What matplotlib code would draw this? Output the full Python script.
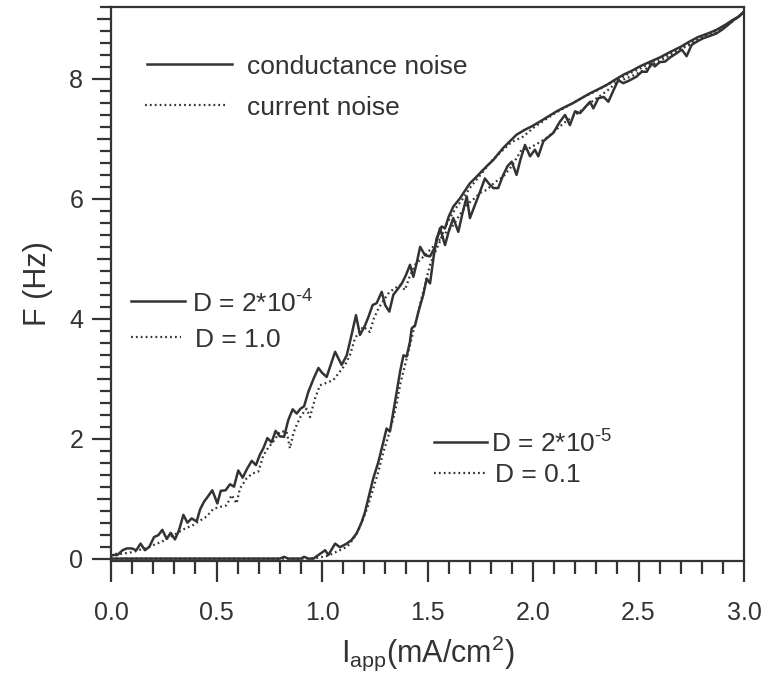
import matplotlib
matplotlib.use("Agg")
import matplotlib.pyplot as plt
from matplotlib.ticker import MultipleLocator

plt.rcParams['font.family'] = ['Liberation Sans', 'DejaVu Sans']
plt.rcParams['mathtext.fontset'] = 'custom'
plt.rcParams['mathtext.rm'] = 'Liberation Sans'
plt.rcParams['mathtext.it'] = 'Liberation Sans'

INK = '#333333'

# conductance noise, D = 2*10^-4 (solid)
x_g_hi = [0.0, 0.011, 0.03, 0.055, 0.075, 0.098, 0.12, 0.14, 0.161, 0.182, 0.204, 0.224,
          0.243, 0.264, 0.283, 0.303, 0.322, 0.343, 0.362, 0.382, 0.406, 0.422, 0.441, 0.46,
          0.48, 0.504, 0.52, 0.543, 0.564, 0.583, 0.603, 0.624, 0.645, 0.667, 0.687, 0.705,
          0.722, 0.741, 0.761, 0.78, 0.80, 0.82, 0.84, 0.861, 0.88, 0.898, 0.915, 0.935,
          0.96, 0.983, 1.0, 1.022, 1.04, 1.062, 1.093, 1.117, 1.14, 1.161, 1.18, 1.204,
          1.222, 1.24, 1.259, 1.283, 1.299, 1.319, 1.338, 1.362, 1.38, 1.398, 1.417, 1.433,
          1.45, 1.465, 1.488, 1.512, 1.536, 1.559, 1.583, 1.6, 1.622, 1.646, 1.665, 1.686,
          1.701, 1.725, 1.749, 1.772, 1.792, 1.812, 1.835, 1.859, 1.88, 1.899, 1.922, 1.94,
          1.962, 1.986, 2.009, 2.025, 2.049, 2.065, 2.096, 2.128, 2.152, 2.175, 2.199, 2.223,
          2.245, 2.27, 2.286, 2.31, 2.335, 2.357, 2.38, 2.404, 2.428, 2.46, 2.491, 2.515,
          2.539, 2.562, 2.578, 2.6, 2.626, 2.65, 2.681, 2.705, 2.728, 2.752, 2.78, 2.807,
          2.84, 2.87, 2.895, 2.917, 2.95, 2.975, 3.0]
f_g_hi = [0.05, 0.06, 0.06, 0.14, 0.17, 0.17, 0.14, 0.25, 0.14, 0.20, 0.36, 0.39,
          0.48, 0.33, 0.43, 0.32, 0.47, 0.73, 0.60, 0.67, 0.62, 0.82, 0.95, 1.04,
          1.14, 0.92, 1.13, 1.14, 1.24, 1.20, 1.47, 1.35, 1.50, 1.63, 1.56, 1.73,
          1.84, 2.01, 1.94, 2.13, 2.04, 2.03, 2.31, 2.49, 2.42, 2.50, 2.54, 2.78,
          3.00, 3.18, 3.10, 3.03, 3.22, 3.45, 3.23, 3.39, 3.73, 4.06, 3.73, 3.89,
          4.05, 4.23, 4.26, 4.45, 4.23, 4.12, 4.40, 4.51, 4.60, 4.73, 4.90, 4.70,
          4.95, 5.20, 5.06, 5.04, 5.20, 5.51, 5.23, 5.45, 5.68, 5.45, 5.75, 6.04,
          5.68, 5.90, 6.12, 6.34, 6.25, 6.18, 6.18, 6.40, 6.55, 6.62, 6.40, 6.65,
          6.90, 6.71, 6.82, 6.71, 6.96, 7.01, 7.10, 7.29, 7.40, 7.23, 7.46, 7.43,
          7.52, 7.62, 7.51, 7.68, 7.70, 7.62, 7.80, 7.98, 7.93, 7.98, 8.04, 8.12,
          8.12, 8.26, 8.21, 8.28, 8.29, 8.36, 8.43, 8.49, 8.38, 8.57, 8.63, 8.68,
          8.72, 8.76, 8.82, 8.88, 8.98, 9.04, 9.12]

# conductance noise, D = 2*10^-5 (solid)
x_g_lo = [0.0, 0.80, 0.82, 0.84, 0.90, 0.915, 0.935, 0.959, 0.999, 1.015, 1.03, 1.062,
          1.085, 1.117, 1.14, 1.164, 1.188, 1.204, 1.227, 1.243, 1.267, 1.291, 1.306, 1.322,
          1.338, 1.354, 1.37, 1.386, 1.401, 1.417, 1.425, 1.441, 1.457, 1.48, 1.496, 1.512,
          1.528, 1.543, 1.567, 1.583, 1.60, 1.622, 1.654, 1.68, 1.701, 1.73, 1.757, 1.785,
          1.812, 1.835, 1.859, 1.89, 1.922, 1.96, 1.994, 2.033, 2.07, 2.112, 2.15, 2.191,
          2.23, 2.27, 2.31, 2.349, 2.39, 2.428, 2.47, 2.507, 2.55, 2.602, 2.65, 2.697,
          2.74, 2.783, 2.83, 2.87, 2.91, 2.949, 2.975, 3.0]
f_g_lo = [0.0, 0.0, 0.03, 0.0, 0.0, 0.03, 0.0, 0.0, 0.10, 0.14, 0.06, 0.25,
          0.19, 0.25, 0.31, 0.42, 0.61, 0.78, 1.11, 1.34, 1.61, 1.95, 2.17, 2.12,
          2.45, 2.78, 3.12, 3.39, 3.37, 3.62, 3.84, 3.89, 4.12, 4.40, 4.67, 4.59,
          5.01, 5.34, 5.54, 5.51, 5.70, 5.87, 6.01, 6.15, 6.26, 6.36, 6.46, 6.56,
          6.65, 6.75, 6.85, 6.96, 7.07, 7.15, 7.21, 7.29, 7.37, 7.46, 7.53, 7.60,
          7.68, 7.76, 7.83, 7.90, 7.99, 8.07, 8.14, 8.21, 8.28, 8.36, 8.45, 8.53,
          8.62, 8.70, 8.76, 8.82, 8.90, 8.99, 9.04, 9.12]

# current noise, D = 1.0 (dotted)
x_i_hi = [0.0, 0.011, 0.05, 0.106, 0.14, 0.177, 0.21, 0.24, 0.275, 0.311, 0.35, 0.39,
          0.42, 0.453, 0.485, 0.515, 0.548, 0.572, 0.595, 0.611, 0.643, 0.67, 0.698, 0.722,
          0.745, 0.769, 0.801, 0.832, 0.848, 0.865, 0.88, 0.90, 0.927, 0.943, 0.967, 0.99,
          1.02, 1.054, 1.085, 1.109, 1.133, 1.156, 1.176, 1.196, 1.227, 1.245, 1.267, 1.29,
          1.314, 1.34, 1.37, 1.393, 1.415, 1.441, 1.47, 1.496, 1.52, 1.543, 1.565, 1.59,
          1.62, 1.65, 1.686, 1.72, 1.75, 1.78, 1.82, 1.859, 1.90, 1.946, 1.985, 2.025,
          2.065, 2.10, 2.144, 2.18, 2.22, 2.27, 2.31, 2.35, 2.40, 2.45, 2.50, 2.55,
          2.60, 2.65, 2.70, 2.75, 2.80, 2.85, 2.90, 2.95, 3.0]
f_i_hi = [0.05, 0.08, 0.08, 0.11, 0.15, 0.19, 0.24, 0.28, 0.35, 0.42, 0.50, 0.56,
          0.63, 0.70, 0.83, 0.86, 0.89, 1.06, 0.92, 1.17, 1.34, 1.42, 1.45, 1.72,
          1.85, 1.95, 2.12, 2.12, 1.84, 2.10, 2.23, 2.38, 2.50, 2.36, 2.67, 2.89,
          2.93, 2.98, 3.12, 3.23, 3.40, 3.67, 3.78, 3.87, 3.78, 4.00, 4.17, 4.30,
          4.42, 4.50, 4.56, 4.48, 4.70, 4.90, 5.00, 5.09, 5.18, 5.26, 5.35, 5.45,
          5.55, 5.72, 5.90, 6.00, 6.10, 6.15, 6.28, 6.37, 6.55, 6.82, 6.85, 6.93,
          7.02, 7.12, 7.26, 7.35, 7.45, 7.60, 7.70, 7.80, 7.95, 8.02, 8.10, 8.20,
          8.30, 8.40, 8.50, 8.58, 8.68, 8.75, 8.85, 8.97, 9.12]

# current noise, D = 0.1 (dotted)
x_i_lo = [0.0, 0.95, 0.99, 1.03, 1.06, 1.085, 1.12, 1.148, 1.17, 1.196, 1.22, 1.243,
          1.267, 1.291, 1.315, 1.338, 1.355, 1.37, 1.395, 1.417, 1.433, 1.449, 1.465, 1.48,
          1.496, 1.512, 1.535, 1.559, 1.58, 1.606, 1.635, 1.669, 1.70, 1.735, 1.765, 1.80,
          1.83, 1.859, 1.90, 1.954, 2.0, 2.05, 2.10, 2.15, 2.20, 2.25, 2.30, 2.35,
          2.40, 2.45, 2.50, 2.55, 2.60, 2.65, 2.70, 2.75, 2.80, 2.85, 2.90, 2.95, 3.0]
f_i_lo = [0.0, 0.0, 0.02, 0.05, 0.10, 0.14, 0.20, 0.33, 0.45, 0.67, 0.90, 1.17,
          1.45, 1.78, 2.05, 2.34, 2.60, 2.90, 3.25, 3.56, 3.80, 4.01, 4.25, 4.45,
          4.68, 4.90, 5.10, 5.29, 5.50, 5.68, 5.85, 6.01, 6.18, 6.33, 6.46, 6.62,
          6.72, 6.82, 6.95, 7.04, 7.18, 7.30, 7.42, 7.52, 7.62, 7.72, 7.80, 7.90,
          7.98, 8.08, 8.16, 8.25, 8.34, 8.43, 8.52, 8.60, 8.70, 8.78, 8.86, 8.97, 9.12]

x_ticks = [0, 0.5, 1.0, 1.5, 2.0, 2.5, 3.0]
y_ticks = [0, 1, 2, 3, 4, 5, 6, 7, 8, 9]
y_ticklabels = ['0', '', '2', '', '4', '', '6', '', '8', '']

solid = dict(color=INK, lw=1.8, linestyle='-')
dotted = dict(color=INK, lw=1.6, linestyle=(0, (0.8, 1.4)))

fig = plt.figure(figsize=(7.63, 6.81), dpi=100)
ax = fig.add_axes([0.1455, 0.1762, 0.8296, 0.8135])

ax.plot(x_g_lo, f_g_lo, **solid)
ax.plot(x_g_hi, f_g_hi, **solid)
ax.plot(x_i_lo, f_i_lo, **dotted)
ax.plot(x_i_hi, f_i_hi, **dotted)

ax.set_xlim(0, 3.0)
ax.set_ylim(-0.04, 9.2)

ax.set_xticks(x_ticks)
ax.set_xticklabels(['%.1f' % v for v in x_ticks])
ax.xaxis.set_minor_locator(MultipleLocator(0.1))
ax.set_yticks(y_ticks)
ax.set_yticklabels(y_ticklabels)
ax.yaxis.set_minor_locator(MultipleLocator(0.2))

ax.tick_params(which='both', direction='out', color=INK, width=1.6,
               top=False, right=False, labelsize=18, labelcolor=INK)
ax.tick_params(axis='x', which='major', length=15, pad=14)
ax.tick_params(axis='x', which='minor', length=9)
ax.tick_params(axis='y', which='major', length=14, pad=6)
ax.tick_params(axis='y', which='minor', length=8)
for t, lab in zip(ax.yaxis.get_major_ticks(), y_ticklabels):
    if lab == '':
        t.tick1line.set_markersize(10)

for s in ax.spines.values():
    s.set_color(INK)
    s.set_linewidth(1.6)

ax.set_xlabel(r'I$_{\rm app}$(mA/cm$^2$)', fontsize=22, color=INK, labelpad=6)
ax.set_ylabel('F (Hz)', fontsize=22, color=INK, labelpad=12)

# hand-drawn key entries, in axes fraction
def key(x0, x1, y, style, label, tx):
    ax.plot([x0, x1], [y, y], transform=ax.transAxes, clip_on=False, **style)
    ax.text(tx, y, label, transform=ax.transAxes, fontsize=19, color=INK,
            va='center_baseline', ha='left')

key(0.057, 0.191, 0.897, solid, 'conductance noise', 0.215)
key(0.054, 0.183, 0.823, dotted, 'current noise', 0.215)
key(0.032, 0.117, 0.469, solid, 'D = 2*10$^{\u20104}$', 0.128)
key(0.032, 0.111, 0.404, dotted, 'D = 1.0', 0.133)
key(0.510, 0.594, 0.215, solid, 'D = 2*10$^{\u20105}$', 0.600)
key(0.510, 0.591, 0.159, dotted, 'D = 0.1', 0.606)

fig.savefig('out.png', dpi=100)
